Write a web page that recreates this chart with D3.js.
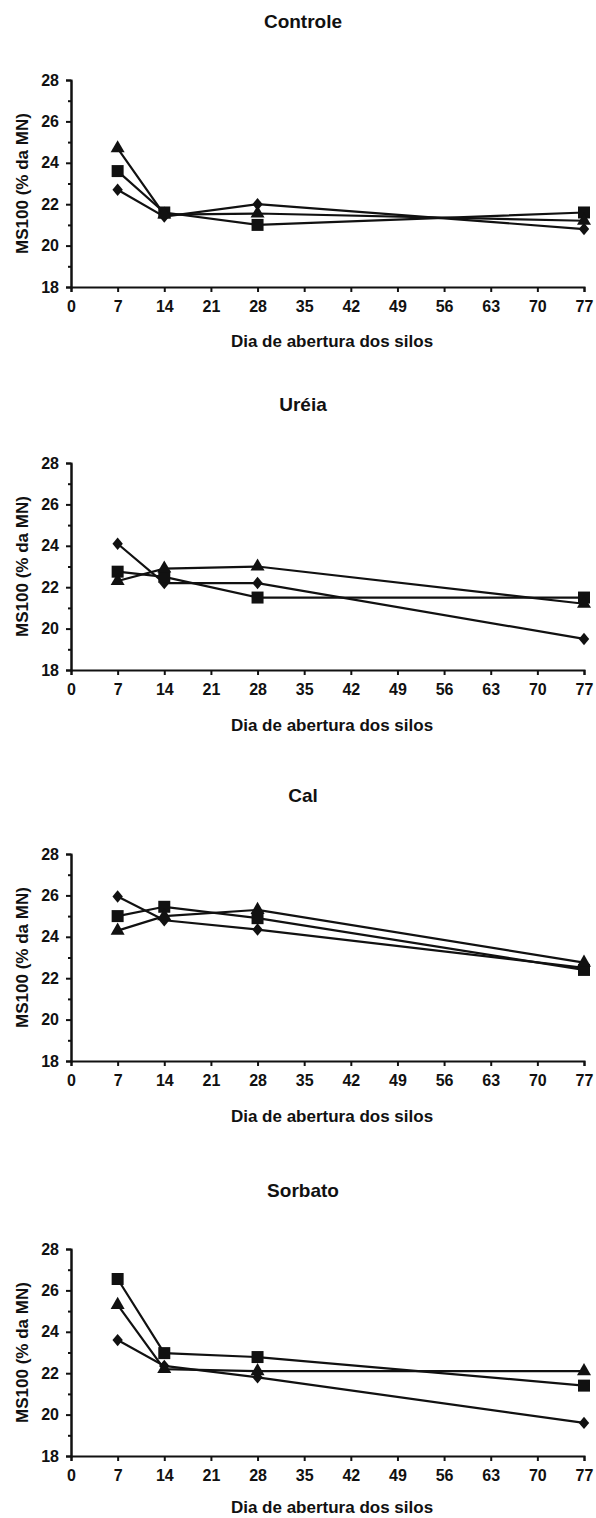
<!DOCTYPE html>
<html>
<head>
<meta charset="utf-8">
<script src="https://cdn.jsdelivr.net/npm/d3@7"></script>
<style>
  body { margin: 0; background: #fff; }
  svg text { font-family: "Liberation Sans", Arial, sans-serif; font-weight: bold; fill: #111; }
</style>
</head>
<body>
<div id="chart-area"></div>
<script>
/*
*    main.js
*/

// dias de abertura
const days = [7, 14, 28, 77];

const xTicks = [0, 7, 14, 21, 28, 35, 42, 49, 56, 63, 70, 77];
const yTicks = [18, 20, 22, 24, 26, 28];
const yMinorTicks = [19, 21, 23, 25, 27];

const panelTitles = ["Controle", "Uréia", "Cal", "Sorbato"];

// MS100 (% da MN), uma lista por tratamento e marcador
const controleDiamond  = [22.7, 21.4, 22.0, 20.8];
const controleSquare   = [23.6, 21.6, 21.0, 21.6];
const controleTriangle = [24.7, 21.5, 21.55, 21.2];

const ureiaDiamond  = [24.1, 22.2, 22.2, 19.5];
const ureiaSquare   = [22.75, 22.5, 21.5, 21.5];
const ureiaTriangle = [22.3, 22.9, 23.0, 21.2];

const calDiamond  = [25.95, 24.8, 24.35, 22.5];
const calSquare   = [25.0, 25.45, 24.9, 22.4];
const calTriangle = [24.3, 25.0, 25.3, 22.75];

const sorbatoDiamond  = [23.6, 22.35, 21.8, 19.6];
const sorbatoSquare   = [26.55, 22.97, 22.78, 21.4];
const sorbatoTriangle = [25.3, 22.2, 22.1, 22.1];

const panelSeries = [
    [controleDiamond, controleSquare, controleTriangle],
    [ureiaDiamond, ureiaSquare, ureiaTriangle],
    [calDiamond, calSquare, calTriangle],
    [sorbatoDiamond, sorbatoSquare, sorbatoTriangle]
];
const markers = ["diamond", "square", "triangle"];

const width = 596;
const height = 1518;
const panelTops = [80, 463, 854, 1249];
const xTitleOffsets = [60, 61, 61, 57];
const plotH = 207;
const plotLeft = 71;
const plotRight = 584;

const svg = d3.select("#chart-area")
    .append("svg")
    .attr("width", width)
    .attr("height", height);

svg.append("rect")
    .attr("width", "100%")
    .attr("height", "100%")
    .attr("fill", "white");

const x = d3.scaleLinear()
    .domain([0, 77])
    .range([plotLeft, plotRight]);

const y = d3.scaleLinear()
    .domain([18, 28])
    .range([plotH, 0]);

const diamondPath = (w, h) => "M0," + (-h) + "L" + w + ",0L0," + h + "L" + (-w) + ",0Z";

function markerPath(kind) {
    if (kind === "square") return d3.symbol(d3.symbolSquare, 144)();
    if (kind === "triangle") return d3.symbol(d3.symbolTriangle, 85)();
    return diamondPath(5.2, 6.2);
}

const line = d3.line()
    .x((d, i) => x(days[i]))
    .y(d => y(d));

panelTitles.forEach((title, p) => {
    const g = svg.append("g")
        .attr("transform", "translate(0," + panelTops[p] + ")");

    g.append("text")
        .attr("x", 303)
        .attr("y", -52)
        .attr("text-anchor", "middle")
        .attr("font-size", "19px")
        .text(title);

    // eixo x
    const bottomAxis = d3.axisBottom(x)
        .tickValues(xTicks)
        .tickSizeOuter(0)
        .tickSize(5)
        .tickPadding(9);

    g.append("g")
        .attr("class", "axis")
        .attr("transform", "translate(0," + plotH + ")")
        .call(bottomAxis);

    g.append("text")
        .attr("x", 332)
        .attr("y", plotH + xTitleOffsets[p])
        .attr("text-anchor", "middle")
        .attr("font-size", "17px")
        .text("Dia de abertura dos silos");

    // eixo y
    const leftAxis = d3.axisLeft(y)
        .tickValues(yTicks)
        .tickSizeOuter(0)
        .tickSize(5)
        .tickPadding(7);

    g.append("g")
        .attr("class", "axis")
        .attr("transform", "translate(" + plotLeft + ",0)")
        .call(leftAxis);

    g.append("g")
        .attr("class", "axis minor")
        .attr("transform", "translate(" + plotLeft + ",0)")
        .call(d3.axisLeft(y).tickValues(yMinorTicks).tickSize(3).tickSizeOuter(0).tickFormat(""));

    g.append("text")
        .attr("x", -(plotH / 2))
        .attr("y", 28)
        .attr("transform", "rotate(-90)")
        .attr("text-anchor", "middle")
        .attr("font-size", "17px")
        .text("MS100 (% da MN)");

    panelSeries[p].forEach((values, s) => {
        g.append("path")
            .attr("d", line(values))
            .attr("fill", "none")
            .attr("stroke", "#111")
            .attr("stroke-width", 2.2);

        g.selectAll(".pt" + s)
            .data(values)
            .enter()
            .append("path")
                .attr("class", "pt" + s)
                .attr("transform", (d, i) => "translate(" + x(days[i]) + "," + y(d) + ")")
                .attr("d", markerPath(markers[s]))
                .attr("fill", "#111");
    });
});

svg.selectAll(".axis path, .axis line")
    .attr("stroke", "#111")
    .attr("stroke-width", 2);

svg.selectAll(".axis text")
    .attr("fill", "#111")
    .attr("font-size", "16px")
    .attr("font-family", "Liberation Sans, Arial, sans-serif")
    .attr("font-weight", "bold");
</script>
</body>
</html>
